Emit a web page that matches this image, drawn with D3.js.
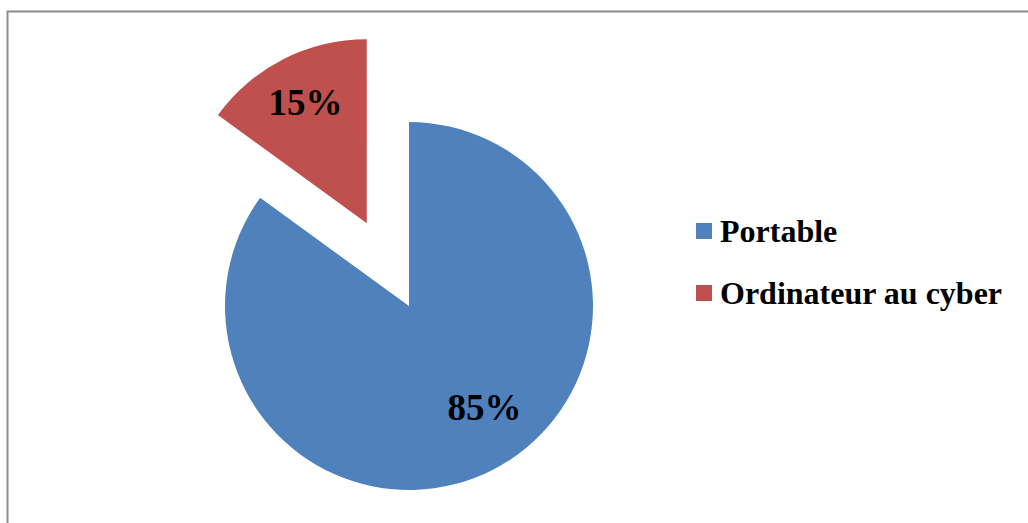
<!DOCTYPE html>
<html>
<head>
<meta charset="utf-8">
<script src="https://cdn.jsdelivr.net/npm/d3@7"></script>
<style>
  html, body { margin: 0; padding: 0; background: #fff; }
  svg { display: block; }
</style>
</head>
<body>
<svg id="chart" width="1028" height="523"></svg>
<script>
const categories = ["Portable", "Ordinateur au cyber"];
const values = [85, 15];
const labels = ["85%", "15%"];
const colors = ["#4F81BD", "#C0504D"];
const exploded = [false, true];

const svg = d3.select("#chart");
const W = 1028, H = 523;

// frame
svg.append("rect")
  .attr("x", 7.5).attr("y", 11.5)
  .attr("width", W + 10).attr("height", H + 10)
  .attr("fill", "#fff")
  .attr("stroke", "#8c8c8c")
  .attr("stroke-width", 2);

const cx = 409, cy = 306, R = 184, explodeDist = 93;

const pie = d3.pie().sort(null).value(d => d)(values);
const arc = d3.arc().innerRadius(0).outerRadius(R);

const g = svg.append("g").attr("transform", `translate(${cx},${cy})`);

function offset(d, i) {
  if (!exploded[i]) return [0, 0];
  const a = (d.startAngle + d.endAngle) / 2;
  return [Math.sin(a) * explodeDist, -Math.cos(a) * explodeDist];
}

const slices = g.selectAll("g.slice").data(pie).enter().append("g")
  .attr("class", "slice")
  .attr("transform", (d, i) => { const o = offset(d, i); return `translate(${o[0]},${o[1]})`; });

slices.append("path")
  .attr("d", arc)
  .attr("fill", (d, i) => colors[i]);

// labels
const labelRatio = [0.685, 0.735];
const labelAngleNudge = [-0.17, 0];
slices.append("text")
  .attr("x", (d, i) => { const a = (d.startAngle + d.endAngle) / 2 + labelAngleNudge[i]; return Math.sin(a) * R * labelRatio[i]; })
  .attr("y", (d, i) => { const a = (d.startAngle + d.endAngle) / 2 + labelAngleNudge[i]; return -Math.cos(a) * R * labelRatio[i]; })
  .attr("text-anchor", "middle")
  .attr("dominant-baseline", "central")
  .attr("font-family", "'Liberation Serif', 'Times New Roman', serif")
  .attr("font-weight", "bold")
  .attr("font-size", 37)
  .attr("fill", "#000")
  .text((d, i) => labels[i]);

// legend
const legend = svg.append("g").attr("transform", "translate(696,223)");
const items = legend.selectAll("g").data(categories).enter().append("g")
  .attr("transform", (d, i) => `translate(0,${i * 62})`);
items.append("rect")
  .attr("width", 16).attr("height", 16)
  .attr("fill", (d, i) => colors[i]);
items.append("text")
  .attr("x", 24).attr("y", 18.5)
  .attr("font-family", "'Liberation Serif', 'Times New Roman', serif")
  .attr("font-weight", "bold")
  .attr("font-size", 32)
  .attr("fill", "#000")
  .text(d => d);
</script>
</body>
</html>
